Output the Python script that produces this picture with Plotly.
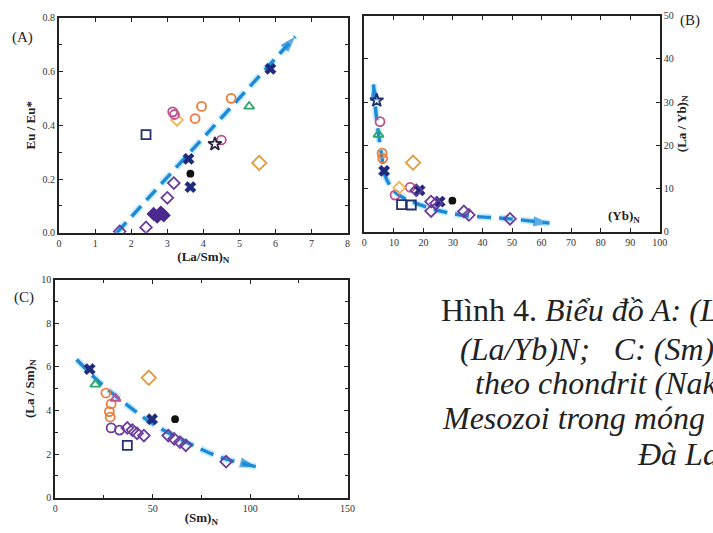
import plotly.graph_objects as go

# ---------------- Panel A data: (La/Sm)N vs Eu/Eu* ----------------
a_orange_circ_x = [3.77, 3.95, 4.77]; a_orange_circ_y = [0.425, 0.47, 0.50]
a_lorange_dia_x = [3.27]; a_lorange_dia_y = [0.42]
a_pink_circ_x = [3.15, 3.2, 4.5]; a_pink_circ_y = [0.45, 0.44, 0.345]
a_square_x = [2.41]; a_square_y = [0.365]
a_tri_x = [5.27]; a_tri_y = [0.47]
a_orange_dia_x = [5.55]; a_orange_dia_y = [0.26]
a_xnavy_x = [5.86, 3.59, 3.64]; a_xnavy_y = [0.61, 0.275, 0.17]
a_star_x = [4.32]; a_star_y = [0.33]
a_black_x = [3.64]; a_black_y = [0.22]
a_purple_dia_x = [3.18, 3.0, 2.41, 1.68]; a_purple_dia_y = [0.185, 0.13, 0.02, 0.005]
a_purple_fill_x = [2.62, 2.72, 2.82, 2.9]; a_purple_fill_y = [0.07, 0.06, 0.075, 0.065]
a_trend_x = [1.6, 6.55]; a_trend_y = [0.0, 0.73]

# ---------------- Panel B data: (Yb)N vs (La/Yb)N ----------------
b_star_x = [4.2]; b_star_y = [30.4]
b_pink_circ_x = [5.3, 10.4, 15.5]; b_pink_circ_y = [25.5, 8.5, 10.3]
b_tri_x = [4.8]; b_tri_y = [22.5]
b_orange_circ_x = [6.0, 6.2]; b_orange_circ_y = [18.2, 17.0]
b_xnavy_x = [6.7, 18.7, 25.5]; b_xnavy_y = [14.1, 9.6, 7.0]
b_orange_dia_x = [16.5]; b_orange_dia_y = [16.0]
b_lorange_dia_x = [11.8]; b_lorange_dia_y = [10.2]
b_square_x = [12.6, 15.9]; b_square_y = [6.3, 6.2]
b_purple_dia_x = [17.6, 22.6, 22.6, 24.3, 33.7, 35.4, 49.3]
b_purple_dia_y = [9.6, 7.0, 4.8, 6.6, 4.7, 3.9, 3.0]
b_black_x = [29.8]; b_black_y = [7.2]
b_trend_x = [3.1, 4.2, 5.9, 7.0, 10.4, 13.7, 22.6, 32.6, 49.3, 62.7]
b_trend_y = [34.1, 25.8, 17.5, 13.0, 9.2, 7.7, 5.4, 3.9, 3.0, 2.0]

# ---------------- Panel C data: (Sm)N vs (La/Sm)N ----------------
c_xnavy_x = [17.7, 49.7]; c_xnavy_y = [5.9, 3.6]
c_tri_x = [20.6]; c_tri_y = [5.2]
c_orange_circ_x = [26.0, 28.7, 27.8, 28.2]; c_orange_circ_y = [4.8, 4.3, 3.95, 3.7]
c_pink_tri_x = [31.0]; c_pink_tri_y = [4.55]
c_purple_circ_x = [28.7, 33.0]; c_purple_circ_y = [3.2, 3.1]
c_purple_dia_x = [37, 39.6, 42, 45.5, 58, 61, 64, 67, 87.7]
c_purple_dia_y = [3.2, 3.1, 2.95, 2.85, 2.85, 2.7, 2.55, 2.4, 1.65]
c_square_x = [37.0]; c_square_y = [2.4]
c_orange_dia_x = [48.0]; c_orange_dia_y = [5.5]
c_black_x = [61.5]; c_black_y = [3.6]
c_trend_x = [11, 23.6, 37, 50.6, 67.5, 84.3, 103]
c_trend_y = [6.34, 5.22, 4.25, 3.36, 2.54, 1.87, 1.42]

# ---------------- styles ----------------
ORANGE = "#EE7B3A"; LORANGE = "#F3B54A"; ODIA = "#E39A3C"; PINK = "#C0508A"
NAVY = "#24306E"; GREEN = "#2EA86B"; XNAVY = "#1E2A7C"; STAR = "#2C2444"
PURPLE = "#6B3C9C"; PFILL = "#4A2A8C"; TREND = "#1C8AD6"; HALO = "rgba(150,220,255,0.55)"
SERIF = "Liberation Serif"

fig = go.Figure()

def pts(ax, x, y, symbol, color, size=9, lw=1.8):
    fig.add_trace(go.Scatter(x=x, y=y, mode="markers", xaxis="x" + ax, yaxis="y" + ax,
                             marker=dict(symbol=symbol, size=size, color=color,
                                         line=dict(color=color, width=lw)),
                             showlegend=False, hoverinfo="skip"))

def trend(ax, x, y, head_start=False):
    for w, c in ((7, HALO), (3.4, TREND)):
        fig.add_trace(go.Scatter(x=x, y=y, mode="lines", xaxis="x" + ax, yaxis="y" + ax,
                                 line=dict(color=c, width=w, dash="14px,8px", shape="spline"),
                                 showlegend=False, hoverinfo="skip"))
    ends = [(x[-2:], y[-2:])]
    if head_start:
        ends.append(([x[1], x[0]], [y[1], y[0]]))
    for ex, ey in ends:
        fig.add_trace(go.Scatter(x=ex, y=ey, mode="markers", xaxis="x" + ax, yaxis="y" + ax,
                                 marker=dict(symbol="arrow", size=[0, 17], color=TREND,
                                             angleref="previous", line=dict(width=0)),
                                 showlegend=False, hoverinfo="skip"))

# Panel A
trend("", a_trend_x, a_trend_y)
pts("", a_orange_circ_x, a_orange_circ_y, "circle-open", ORANGE)
pts("", a_lorange_dia_x, a_lorange_dia_y, "diamond-open", LORANGE)
pts("", a_pink_circ_x, a_pink_circ_y, "circle-open", PINK)
pts("", a_square_x, a_square_y, "square-open", NAVY)
pts("", a_tri_x, a_tri_y, "triangle-up-open", GREEN)
pts("", a_orange_dia_x, a_orange_dia_y, "diamond-open", ODIA, size=11)
pts("", a_xnavy_x, a_xnavy_y, "x", XNAVY, size=10, lw=0.5)
pts("", a_star_x, a_star_y, "star-open", STAR, size=10)
pts("", a_black_x, a_black_y, "circle", "#111111", size=6)
pts("", a_purple_dia_x, a_purple_dia_y, "diamond-open", PURPLE)
pts("", a_purple_fill_x, a_purple_fill_y, "diamond", PFILL)

# Panel B
trend("2", b_trend_x, b_trend_y, head_start=True)
pts("2", b_star_x, b_star_y, "star-open", NAVY, size=10)
pts("2", b_pink_circ_x, b_pink_circ_y, "circle-open", PINK)
pts("2", b_tri_x, b_tri_y, "triangle-up-open", GREEN)
pts("2", b_orange_circ_x, b_orange_circ_y, "circle-open", ORANGE)
pts("2", b_xnavy_x, b_xnavy_y, "x", XNAVY, size=10, lw=0.5)
pts("2", b_orange_dia_x, b_orange_dia_y, "diamond-open", ODIA, size=11)
pts("2", b_lorange_dia_x, b_lorange_dia_y, "diamond-open", LORANGE)
pts("2", b_square_x, b_square_y, "square-open", NAVY)
pts("2", b_purple_dia_x, b_purple_dia_y, "diamond-open", PURPLE)
pts("2", b_black_x, b_black_y, "circle", "#111111", size=6)

# Panel C
trend("3", c_trend_x, c_trend_y)
pts("3", c_xnavy_x, c_xnavy_y, "x", XNAVY, size=10, lw=0.5)
pts("3", c_tri_x, c_tri_y, "triangle-up-open", GREEN)
pts("3", c_orange_circ_x, c_orange_circ_y, "circle-open", ORANGE)
pts("3", c_pink_tri_x, c_pink_tri_y, "triangle-up-open", PINK)
pts("3", c_purple_circ_x, c_purple_circ_y, "circle-open", PURPLE)
pts("3", c_purple_dia_x, c_purple_dia_y, "diamond-open", PURPLE)
pts("3", c_square_x, c_square_y, "square-open", NAVY)
pts("3", c_orange_dia_x, c_orange_dia_y, "diamond-open", ODIA, size=11)
pts("3", c_black_x, c_black_y, "circle", "#111111", size=6)

W, H = 713, 533
def px(v): return v / W
def py(v): return 1 - v / H

tickfont = dict(family=SERIF, size=10, color="#333")
titlefont = dict(family=SERIF, size=13, color="#222")
common = dict(showline=True, linewidth=2, linecolor="#222", mirror="allticks", ticks="inside",
              ticklen=4, tickwidth=1.4, tickcolor="#222", showgrid=False, zeroline=False,
              tickfont=tickfont, title_font=titlefont)

fig.update_layout(
    width=W, height=H, margin=dict(l=0, r=0, t=0, b=0),
    paper_bgcolor="white", plot_bgcolor="white",
    xaxis=dict(domain=[px(57), px(350)], range=[0, 8], dtick=1,
               title=dict(text="<b>(La/Sm)<sub>N</sub></b>", standoff=1), **common),
    yaxis=dict(domain=[py(232), py(12)], range=[0, 0.8], dtick=0.2, tickformat=".1f",
               minor=dict(dtick=0.1, ticks="inside", ticklen=3, tickcolor="#222"),
               title=dict(text="<b>Eu / Eu*</b>", standoff=4), **common),
    xaxis2=dict(domain=[px(367), px(667)], range=[0, 100], dtick=10, anchor="y2", **common),
    yaxis2=dict(domain=[py(231), py(10)], range=[0, 50], dtick=10, anchor="x2", side="right",
                title=dict(text="<b>(La / Yb)<sub>N</sub></b>", standoff=3), **common),
    xaxis3=dict(domain=[px(53), px(350)], range=[0, 150], dtick=50, anchor="y3",
                minor=dict(dtick=25, ticks="inside", ticklen=3, tickcolor="#222"),
                title=dict(text="<b>(Sm)<sub>N</sub></b>", standoff=0), **common),
    yaxis3=dict(domain=[py(503), py(280)], range=[0, 10], dtick=2, anchor="x3",
                minor=dict(dtick=1, ticks="inside", ticklen=3, tickcolor="#222"),
                title=dict(text="<b>(La / Sm)<sub>N</sub></b>", standoff=4), **common),
)

ann = []
def label(text, x, y, size=11, xanchor="left", color="#222"):
    ann.append(dict(text=text, x=px(x), y=py(y), xref="paper", yref="paper", showarrow=False,
                    xanchor=xanchor, yanchor="middle",
                    font=dict(family=SERIF, size=size, color=color)))

label("(A)", 20, 32, size=15, xanchor="center")
label("(B)", 698, 15, size=15, xanchor="center")
label("(C)", 21, 298, size=15, xanchor="center")
label("<b>(Yb)<sub>N</sub></b>", 612, 215, size=13)

cap = 32
label("Hình 4. <i>Biểu đồ A: (L</i>", 443, 311, size=cap)
label("<i>(La/Yb)N;\u00a0\u00a0\u00a0C: (Sm)</i>", 462, 351, size=cap)
label("<i>theo chondrit (Nak</i>", 477, 386, size=cap)
label("<i>Mesozoi trong móng</i>", 444, 422, size=cap)
label("<i>Đà La</i>", 642, 458, size=cap)

fig.update_layout(annotations=ann)
fig.write_html("out.html")
